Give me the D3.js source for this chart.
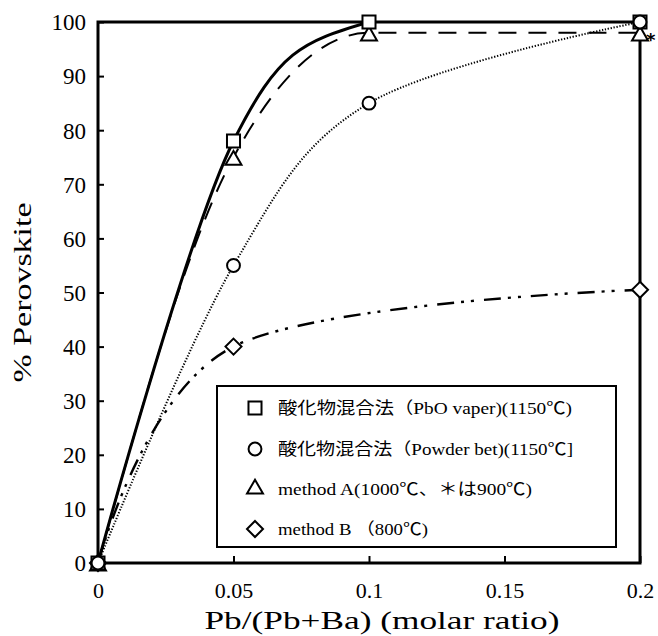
<!DOCTYPE html>
<html>
<head>
<meta charset="utf-8">
<script src="https://cdn.jsdelivr.net/npm/d3@7"></script>
<style>
  html, body { margin: 0; padding: 0; background: #fff; }
  svg { display: block; }
</style>
</head>
<body>
<svg id="chart" width="658" height="636"></svg>
<script>
// ---- data ----
const xTicks = [0, 0.05, 0.1, 0.15, 0.2];
const xTickLabels = ["0", "0.05", "0.1", "0.15", "0.2"];
const yTicks = [0, 10, 20, 30, 40, 50, 60, 70, 80, 90, 100];

const vaperX = [0, 0.05, 0.1, 0.2];
const vaperY = [0, 78, 100, 100];

const powderX = [0, 0.05, 0.1, 0.2];
const powderY = [0, 55, 85, 100];

const methodAX = [0, 0.05, 0.1, 0.2];
const methodAY = [0, 75, 98, 98];

const methodBX = [0, 0.05, 0.2];
const methodBY = [0, 40, 50.5];

const legendLabels = [
  "酸化物混合法（PbO vaper)(1150℃)",
  "酸化物混合法（Powder bet)(1150℃]",
  "method A(1000℃、＊は900℃)",
  "method B （800℃)"
];
const xTitle = "Pb/(Pb+Ba) (molar ratio)";
const yTitle = "% Perovskite";

// ---- drawing ----
const svg = d3.select("#chart");
const x = d3.scaleLinear().domain([0, 0.2]).range([98, 640]);
const y = d3.scaleLinear().domain([0, 100]).range([563, 22]);
const serif = "'Liberation Serif', 'Noto Sans CJK JP', serif";
const cjk = "'Liberation Serif', 'Noto Sans CJK JP', serif";

const zip = (xs, ys) => xs.map((v, i) => [v, ys[i]]);

const series = [
  { pts: zip(vaperX, vaperY), marker: "square", width: 3, dash: null, curve: d3.curveCardinal },
  { pts: zip(powderX, powderY), marker: "circle", width: 2, dash: "1.3,1.7", curve: d3.curveCardinal },
  { pts: zip(methodAX, methodAY), marker: "triangle", width: 2, dash: "18,12", curve: d3.curveMonotoneX },
  { pts: zip(methodBX, methodBY), marker: "diamond", width: 2.4, dash: "17,7,3,7,3,10", curve: d3.curveCardinal }
];

svg.append("defs").append("clipPath").attr("id", "plotclip")
  .append("rect")
  .attr("x", x(0)).attr("y", y(100))
  .attr("width", x(0.2) - x(0)).attr("height", y(0) - y(100));

// lines
const lines = svg.append("g").attr("clip-path", "url(#plotclip)");
series.forEach(s => {
  const line = d3.line().x(d => x(d[0])).y(d => y(d[1])).curve(s.curve);
  lines.append("path")
    .attr("d", line(s.pts))
    .attr("fill", "none")
    .attr("stroke", "#000")
    .attr("stroke-width", s.width)
    .attr("stroke-dasharray", s.dash);
});

// frame
svg.append("rect")
  .attr("x", x(0)).attr("y", y(100))
  .attr("width", x(0.2) - x(0)).attr("height", y(0) - y(100))
  .attr("fill", "none").attr("stroke", "#000").attr("stroke-width", 3);

// axes (inward ticks)
const xAxis = d3.axisBottom(x).tickValues(xTicks).tickSize(0).tickPadding(0)
  .tickFormat((d, i) => xTickLabels[i]);
const gx = svg.append("g").attr("transform", `translate(0,${y(0)})`).call(xAxis);
gx.attr("font-family", serif);
gx.select(".domain").remove();
gx.selectAll("text").attr("y", 35).attr("dy", null)
  .attr("font-family", serif).attr("font-size", 22).attr("fill", "#000");
gx.selectAll(".tick").append("line").attr("y1", 0).attr("y2", -7)
  .attr("stroke", "#000").attr("stroke-width", 2);

const yAxis = d3.axisLeft(y).tickValues(yTicks).tickSize(0).tickPadding(0);
const gy = svg.append("g").attr("transform", `translate(${x(0)},0)`).call(yAxis);
gy.attr("font-family", serif);
gy.select(".domain").remove();
gy.selectAll("text").attr("x", -12).attr("dy", "0.34em")
  .attr("font-family", serif).attr("font-size", 23).attr("fill", "#000");
gy.selectAll(".tick").append("line").attr("x1", 0).attr("x2", 6)
  .attr("stroke", "#000").attr("stroke-width", 2);

// markers
function markerPath(type) {
  if (type === "diamond") {
    const r = 8;
    return `M0,${-r}L${r},0L0,${r}L${-r},0Z`;
  }
  const sym = { square: d3.symbolSquare, circle: d3.symbolCircle, triangle: d3.symbolTriangle };
  const size = { square: 170, circle: 130, triangle: 110 };
  return d3.symbol().type(sym[type]).size(size[type])();
}
function marker(g, type, cx, cy) {
  const dy = type === "triangle" ? 3 : 0;
  g.append("path")
    .attr("d", markerPath(type))
    .attr("transform", `translate(${cx},${cy + dy})`)
    .attr("fill", "#fff").attr("stroke", "#000").attr("stroke-width", 2);
}
[3, 2, 0, 1].forEach(i => {
  const s = series[i];
  s.pts.forEach(p => marker(svg, s.marker, x(p[0]), y(p[1])));
});

// asterisk at method A 0.2 point (900 ℃)
svg.append("text")
  .attr("x", x(methodAX[3]) + 6).attr("y", y(methodAY[3]) + 13)
  .attr("font-family", "'DejaVu Sans'").attr("font-size", 18).attr("font-weight", "bold")
  .text("*");

// legend
const lg = svg.append("g");
lg.append("rect").attr("x", 217).attr("y", 386).attr("width", 399).attr("height", 161)
  .attr("fill", "#fff").attr("stroke", "#000").attr("stroke-width", 2);
const rowsY = [408, 449, 489, 529];
const rowsW = [294, 295, 254, 150];
series.forEach((s, i) => {
  const ty = s.marker === "triangle" ? -3 : 0;
  marker(lg, s.marker, 255, rowsY[i] + ty);
  lg.append("text")
    .attr("x", 278).attr("y", rowsY[i]).attr("dy", "0.36em")
    .attr("font-family", cjk).attr("font-size", 16.5).attr("fill", "#000")
    .attr("textLength", rowsW[i]).attr("lengthAdjust", "spacingAndGlyphs")
    .text(legendLabels[i]);
});

// axis titles
svg.append("text")
  .attr("x", 382).attr("y", 629).attr("text-anchor", "middle")
  .attr("font-family", serif).attr("font-size", 26).attr("fill", "#000")
  .attr("textLength", 355).attr("lengthAdjust", "spacingAndGlyphs")
  .text(xTitle);
svg.append("text")
  .attr("transform", `translate(31,${(y(0) + y(100)) / 2}) rotate(-90)`)
  .attr("text-anchor", "middle")
  .attr("font-family", serif).attr("font-size", 26).attr("fill", "#000")
  .attr("textLength", 180).attr("lengthAdjust", "spacingAndGlyphs")
  .text(yTitle);
</script>
</body>
</html>
